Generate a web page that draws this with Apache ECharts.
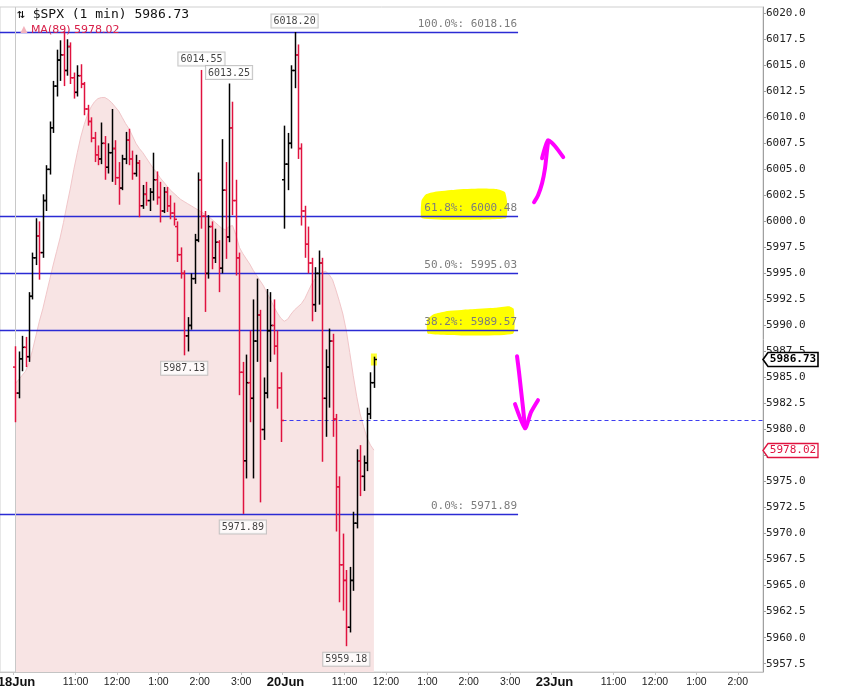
<!DOCTYPE html>
<html>
<head>
<meta charset="utf-8">
<title>$SPX 1 min</title>
<script src="https://cdn.jsdelivr.net/npm/echarts/dist/echarts.min.js"></script>
<style>
html,body{margin:0;padding:0;background:#fff;}
#chart{width:855px;height:691px;}
</style>
</head>
<body>
<div id="chart"></div>
<script>
// x axis = minutes since 18Jun 9:30 (19Jun market holiday, sessions are 390 min)
var sessionStart = [0, 390];
var barMinutes = 5;

var jun18Open = [5986.0,5983.5,5986.8,5987.9,5987.0,5992.8,5996.5,5998.6,5997.0,6002.0,
  6005.0,6009.0,6013.0,6015.5,6016.0,6014.5,6016.8,6013.8,6012.4,6014.0,
  6013.2,6010.8,6009.6,6008.0,6006.4,6006.0,6007.5,6005.2,6006.6,6007.0,
  6004.2,6003.2,6006.0,6007.8,6006.0,6004.6,6005.6,6001.5,6002.6,6002.0,
  6002.8,6004.0,6002.3,6001.0,6002.8,6001.5,6000.8,5999.5,5996.8,5995.0,
  5989.0,5990.0,5994.5,5998.2,6004.0,6000.5,5995.0,5999.5,5996.5,5998.0,
  5995.5,6003.0,5998.5,6009.0,6002.0,5996.5,5985.5,5977.0,5984.5,5983.0,
  5988.5,5991.0,5980.0,5983.5,5989.5,5990.0,5988.0,5984.0];
var jun18High = [5988.0,5987.5,5989.0,5988.9,5993.2,5997.0,6000.3,6000.0,6002.6,6005.4,
  6009.6,6013.5,6016.5,6017.4,6018.25,6017.5,6017.2,6014.3,6015.0,6015.1,
  6013.4,6011.2,6010.0,6008.6,6007.3,6009.5,6008.2,6007.5,6010.8,6007.8,
  6005.7,6006.4,6008.6,6008.9,6006.8,6006.4,6005.9,6003.5,6003.8,6003.2,
  6006.6,6004.8,6003.8,6003.3,6003.3,6002.5,6001.8,6000.0,5997.5,5995.3,
  5990.8,5995.0,5998.8,6004.7,6014.55,6001.0,6000.6,6000.0,5999.3,5998.2,
  6007.9,6005.7,6013.25,6011.5,6004.0,5997.0,5986.5,5987.2,5989.5,5992.5,
  5994.5,5991.5,5985.0,5993.5,5993.2,5992.5,5989.5,5985.5];
var jun18Low = [5980.7,5983.0,5985.6,5986.0,5986.5,5992.5,5995.8,5994.4,5996.5,6001.0,
  6004.5,6008.5,6012.0,6013.5,6013.0,6014.0,6013.2,6011.8,6012.0,6012.8,
  6010.2,6009.2,6007.6,6005.7,6005.4,6005.5,6004.0,6004.6,6003.8,6003.5,
  6001.6,6003.0,6005.5,6005.4,6004.0,6004.3,6000.4,6001.2,6001.5,6001.0,
  6002.0,6001.6,5999.9,6000.8,6000.9,6000.2,5999.6,5996.1,5994.5,5987.13,
  5987.5,5989.6,5994.0,5998.0,5999.3,5991.3,5994.5,5995.4,5996.0,5993.2,
  5995.0,5996.4,5998.0,6000.6,5994.8,5983.3,5971.89,5975.3,5980.7,5975.3,
  5986.5,5973.0,5979.0,5983.0,5986.5,5987.2,5982.0,5978.8];
var jun18Close = [5983.5,5986.8,5987.9,5987.0,5992.8,5996.5,5998.6,5997.0,6002.0,6005.0,
  6009.0,6013.0,6015.5,6016.0,6014.5,6016.8,6013.8,6012.4,6014.0,6013.2,
  6010.8,6009.6,6008.0,6006.4,6006.0,6007.5,6005.2,6006.6,6007.0,6004.2,
  6003.2,6006.0,6007.8,6006.0,6004.6,6005.6,6001.5,6002.6,6002.0,6002.8,
  6004.0,6002.3,6001.0,6002.8,6001.5,6000.8,6000.2,5996.8,5995.0,5989.0,
  5990.0,5994.5,5998.2,6004.0,6000.5,5995.0,5999.5,5996.5,5998.0,5995.5,
  6003.0,5998.5,6009.0,6002.0,5996.5,5985.5,5977.0,5984.5,5983.0,5988.5,
  5991.0,5980.0,5983.5,5989.5,5990.0,5988.0,5984.0,5980.87];
var jun18Ma = [5984.4,5984.8,5985.2,5985.6,5986.4,5987.6,5989.0,5990.4,5991.6,5993.0,
  5994.4,5995.8,5997.1,5998.4,5999.9,6001.6,6003.2,6005.0,6006.6,6008.1,
  6009.3,6010.3,6011.0,6011.5,6011.8,6011.9,6011.9,6011.7,6011.4,6011.0,
  6010.6,6010.0,6009.4,6008.9,6008.2,6007.5,6007.0,6006.6,6006.1,6005.6,
  6005.1,6004.7,6004.2,6003.8,6003.4,6003.0,6002.7,6002.4,6002.1,6001.9,
  6001.7,6001.5,6001.3,6001.1,6000.9,6000.7,6000.5,6000.2,5999.9,5999.6,
  5999.3,5999.2,5999.5,5999.6,5998.7,5997.5,5996.9,5996.4,5995.9,5995.3,
  5994.8,5994.3,5993.8,5993.1,5992.5,5991.8,5991.2,5990.7];

var jun20Open = [6004.0,6005.5,6007.5,6014.5,6016.0,6007.0,6001.0,5997.8,5996.0,5992.0,
  5995.0,5996.0,5983.0,5986.0,5988.5,5981.0,5974.5,5967.0,5965.5,5961.0,
  5965.5,5971.0,5977.0,5975.5,5976.8,5981.5,5984.5];
var jun20High = [6009.2,6008.5,6015.0,6018.20,6017.0,6007.5,6001.5,5999.5,5996.5,5995.6,
  5997.2,5996.5,5987.7,5989.7,5989.2,5981.5,5975.5,5970.0,5966.5,5966.8,
  5972.1,5978.1,5978.5,5977.5,5982.1,5985.5,5987.0];
var jun20Low = [5999.3,6003.0,6007.0,6012.8,6006.0,5999.6,5996.5,5995.0,5990.4,5991.3,
  5992.0,5976.9,5979.3,5982.1,5979.3,5970.2,5963.4,5962.6,5959.18,5960.5,
  5964.5,5970.5,5973.6,5974.1,5976.0,5981.0,5984.0];
var jun20Close = [6005.5,6007.5,6014.5,6016.0,6007.0,6001.0,5997.8,5996.0,5992.0,5995.0,
  5996.0,5983.0,5986.0,5988.5,5981.0,5974.5,5967.0,5965.5,5961.0,5965.5,
  5971.0,5977.0,5975.5,5976.8,5981.5,5984.5,5986.73];
var jun20Ma = [5990.4,5990.6,5991.1,5991.5,5991.8,5992.1,5992.6,5993.3,5994.0,5994.5,
  5994.9,5995.1,5995.2,5994.9,5994.4,5993.4,5992.3,5991.1,5989.5,5987.4,
  5985.2,5983.2,5981.5,5980.3,5979.2,5978.5,5978.02];

// labelled highs / lows as [session, bar]
var markHighs = [[1, 3], [0, 54], [0, 62]];
var markLows = [[0, 49], [0, 66], [1, 18]];

var fibLevels = [6018.16, 6000.48, 5995.03, 5989.57, 5971.89];
var fibPct = ['100.0%', '61.8%', '50.0%', '38.2%', '0.0%'];
var fibEndMinute = 731.5;

var yTicks = [5957.5,5960,5962.5,5965,5967.5,5970,5972.5,5975,5977.5,5980,5982.5,5985,5987.5,
  5990,5992.5,5995,5997.5,6000,6002.5,6005,6007.5,6010,6012.5,6015,6017.5,6020];
var xTickMinutes = [0, 90, 150, 210, 270, 330, 390, 480, 540, 600, 660, 720, 780, 870, 930, 990, 1050];
var xTickLabels = ['18Jun','11:00','12:00','1:00','2:00','3:00','20Jun','11:00','12:00','1:00','2:00','3:00',
  '23Jun','11:00','12:00','1:00','2:00'];

// hand drawn marks on the picture, in (minute, price)
var highlightPaths = [
  [[592.3,6000.3],[591.5,6002.0],[598.0,6002.6],[611.1,6002.85],[640.1,6003.05],[676.4,6003.15],[700.4,6003.1],[712.5,6002.8],[715.5,6001.9],[714.0,6000.3]],
  [[601.0,5989.2],[600.0,5990.6],[610.0,5991.1],[625.7,5991.35],[662.0,5991.55],[698.1,5991.7],[718.2,5991.85],[725.2,5991.6],[724.2,5989.2]]
];
var arrowPaths = [
  [[754.7,6001.84],[760.5,6002.52],[766.3,6003.67],[770.6,6005.11],[773.5,6006.84],[775.0,6007.61]],
  [[766.3,6006.07],[775.0,6007.8],[785.2,6007.22],[797.0,6006.17]],
  [[730.0,5987.05],[732.9,5985.51],[735.8,5983.78],[738.7,5982.06],[741.6,5980.13]],
  [[727.1,5982.44],[741.6,5980.13],[750.3,5981.67],[760.4,5982.82]]
];

var xMin = -19.57, xMax = 1086.6;
var yMin = 5956.7, yMax = 6020.6;

var days = [
  {o: jun18Open, h: jun18High, l: jun18Low, c: jun18Close, ma: jun18Ma},
  {o: jun20Open, h: jun20High, l: jun20Low, c: jun20Close, ma: jun20Ma}
];
function barTime(d, i) {
  return sessionStart[d] + barMinutes * i + barMinutes / 2;
}
var bars = [], maLine = [];
days.forEach(function (d, k) {
  for (var i = 0; i < d.o.length; i++) {
    bars.push([barTime(k, i), d.o[i], d.h[i], d.l[i], d.c[i]]);
    maLine.push([barTime(k, i), d.ma[i]]);
  }
});
var lastBar = bars[bars.length - 1];
var lastClose = lastBar[4];
var lastMa = maLine[maLine.length - 1][1];
var prevClose = jun18Close[jun18Close.length - 1];

var highPts = markHighs.map(function (m) { return [barTime(m[0], m[1]), days[m[0]].h[m[1]]]; });
var lowPts = markLows.map(function (m) { return [barTime(m[0], m[1]), days[m[0]].l[m[1]]]; });

var RED = '#e0123f';
var mono = '"DejaVu Sans Mono", monospace';

function boxLabel(pos) {
  return {
    show: true, position: pos, distance: pos === 'top' ? 4 : 6,
    formatter: function (p) { return p.value[1].toFixed(2); },
    fontFamily: mono, fontSize: 10, color: '#111',
    backgroundColor: '#fff', borderColor: '#b8b8b8', borderWidth: 1, padding: [2, 2, 1, 2]
  };
}

var chart = echarts.init(document.getElementById('chart'));
var option = {
  animation: false,
  backgroundColor: '#fff',
  title: [{
    text: '\u21c5 $SPX (1 min) ' + lastClose.toFixed(2),
    left: 17, top: 8, padding: 0,
    textStyle: {fontFamily: mono, fontSize: 13, fontWeight: 'normal', color: '#111'}
  }, {
    text: '{ic|\u25b2}{t|MA(89) ' + lastMa.toFixed(2) + '}',
    left: 18, top: 24, padding: 0,
    textStyle: {fontWeight: 'normal', rich: {
      ic: {color: '#f3b3bd', fontSize: 12, padding: [0, 1, 0, 0]},
      t: {color: '#d8204a', fontSize: 11, fontFamily: 'DejaVu Sans', fontWeight: 'normal'}
    }}
  }],
  grid: {left: 0, right: 92, top: 7, bottom: 19, outerBoundsMode: 'none', containLabel: false,
    show: true, borderColor: '#cfcfcf', borderWidth: 1},
  xAxis: {
    type: 'value', min: xMin, max: xMax,
    axisLine: {show: true, onZero: false, lineStyle: {color: '#c4c4c4'}},
    axisTick: {show: true, customValues: xTickMinutes, length: 3, lineStyle: {color: '#c4c4c4'}},
    splitLine: {show: false},
    axisLabel: {
      customValues: xTickMinutes, margin: 3,
      fontFamily: 'Liberation Sans', fontSize: 10.5, color: '#222', lineHeight: 14,
      formatter: function (v) {
        var k = xTickMinutes.indexOf(Math.round(v));
        if (k < 0) return '';
        var s = xTickLabels[k];
        return s.indexOf('Jun') > 0 ? '{d|' + s + '}' : s;
      },
      rich: {d: {fontWeight: 'bold', fontSize: 13, fontFamily: 'Liberation Sans', color: '#111', lineHeight: 14,
        padding: [0, 0, 0, 6]}}
    }
  },
  yAxis: {
    type: 'value', position: 'right', min: yMin, max: yMax, scale: true,
    axisLine: {show: true, onZero: false, lineStyle: {color: '#a0a0a0'}},
    axisTick: {show: true, customValues: yTicks, length: 3, lineStyle: {color: '#a0a0a0'}},
    splitLine: {show: false},
    axisLabel: {
      customValues: yTicks, margin: 3, color: '#222', fontFamily: mono, fontSize: 11,
      formatter: function (v) { return v.toFixed(1); }
    }
  },
  series: [{
    // MA(89) drawn as shaded area
    type: 'line', data: maLine, showSymbol: false, z: 1,
    lineStyle: {color: '#f1c6c9', width: 1},
    areaStyle: {color: '#f8e4e4', opacity: 1},
    markLine: {
      silent: true, symbol: ['none', 'none'], label: {show: false},
      lineStyle: {color: '#c8c8c8', type: 'solid', width: 1},
      data: [{xAxis: 2}]
    }
  }, {
    // marker highlights behind the fib labels
    type: 'custom', z: 2, silent: true,
    data: highlightPaths.map(function (p) { return p[0]; }),
    renderItem: function (params, api) {
      var pts = highlightPaths[params.dataIndex].map(function (p) { return api.coord(p); });
      return {type: 'polygon', shape: {points: pts, smooth: 0.15}, style: {fill: '#ffff00'}};
    }
  }, {
    // fibonacci retracement lines
    type: 'custom', z: 3, silent: true,
    data: fibLevels.map(function (v) { return [xMin, v, fibEndMinute]; }),
    encode: {x: [0, 2], y: 1},
    renderItem: function (params, api) {
      var a = api.coord([api.value(0), api.value(1)]);
      var b = api.coord([api.value(2), api.value(1)]);
      var y = Math.round(a[1]) + 0.5;
      var k = params.dataIndex;
      return {type: 'group', children: [
        {type: 'line', shape: {x1: a[0], y1: y, x2: b[0], y2: y}, style: {stroke: '#2b2bd4', lineWidth: 1.3}},
        {type: 'text', style: {
          text: fibPct[k] + ': ' + fibLevels[k].toFixed(2), x: b[0] - 1, y: y - 3,
          align: 'right', verticalAlign: 'bottom', fill: '#7c7c7c', font: '11px ' + mono
        }}
      ]};
    }
  }, {
    // previous close, dashed
    type: 'custom', z: 3, silent: true,
    data: [[sessionStart[1], prevClose, xMax]],
    encode: {x: [0, 2], y: 1},
    renderItem: function (params, api) {
      var a = api.coord([api.value(0), api.value(1)]);
      var b = api.coord([api.value(2), api.value(1)]);
      var y = Math.round(a[1]) + 0.5;
      return {type: 'line', shape: {x1: a[0], y1: y, x2: b[0], y2: y},
        style: {stroke: '#3c3cf0', lineWidth: 1.2, lineDash: [4, 3]}};
    }
  }, {
    // last bar highlight
    type: 'scatter', z: 4, silent: true,
    data: [[lastBar[0], lastClose]],
    symbol: 'rect', symbolSize: [6, 12], itemStyle: {color: '#ffff00'}
  }, {
    // OHLC bars
    type: 'custom', z: 5, silent: true,
    data: bars,
    encode: {x: 0, y: [1, 2, 3, 4]},
    renderItem: function (params, api) {
      var t = api.value(0), o = api.value(1), h = api.value(2), l = api.value(3), c = api.value(4);
      var pH = api.coord([t, h]), pL = api.coord([t, l]);
      var pO = api.coord([t, o]), pC = api.coord([t, c]);
      var x = Math.round(pH[0]) + 0.5;
      var col = c >= o ? '#000' : RED;
      var st = {stroke: col, lineWidth: 1.5};
      return {type: 'group', children: [
        {type: 'line', shape: {x1: x, y1: pH[1], x2: x, y2: pL[1]}, style: st},
        {type: 'line', shape: {x1: x - 2.5, y1: pO[1], x2: x, y2: pO[1]}, style: st},
        {type: 'line', shape: {x1: x, y1: pC[1], x2: x + 2.5, y2: pC[1]}, style: st}
      ]};
    }
  }, {
    // hand drawn magenta arrows
    type: 'custom', z: 6, silent: true,
    data: arrowPaths.map(function (p) { return p[0]; }),
    renderItem: function (params, api) {
      var pts = arrowPaths[params.dataIndex].map(function (p) { return api.coord(p); });
      return {type: 'polyline', shape: {points: pts, smooth: 0.2},
        style: {stroke: '#ff00ff', lineWidth: 4, fill: null, lineCap: 'round', lineJoin: 'round'}};
    }
  }, {
    type: 'scatter', z: 7, silent: true, data: highPts,
    symbolSize: 1, itemStyle: {color: 'rgba(0,0,0,0)'}, label: boxLabel('top')
  }, {
    type: 'scatter', z: 7, silent: true, data: lowPts,
    symbolSize: 1, itemStyle: {color: 'rgba(0,0,0,0)'}, label: boxLabel('bottom')
  }, {
    // value tags on the price axis
    type: 'custom', z: 8, silent: true,
    data: [[xMax, lastClose, 0], [xMax, lastMa, 1]],
    encode: {x: 0, y: 1},
    renderItem: function (params, api) {
      var p = api.coord([api.value(0), api.value(1)]);
      var x = Math.round(p[0]), y = Math.round(p[1]) + 0.5;
      var isPrice = api.value(2) === 0;
      var col = isPrice ? '#000' : RED;
      return {type: 'group', children: [
        {type: 'polygon', shape: {points: [[x, y], [x + 5, y - 7], [x + 55, y - 7], [x + 55, y + 7], [x + 5, y + 7]]},
          style: {fill: '#fff', stroke: col, lineWidth: isPrice ? 1.6 : 1.3}},
        {type: 'text', style: {text: api.value(1).toFixed(2), x: x + 30, y: y, align: 'center', verticalAlign: 'middle',
          fill: col, font: (isPrice ? 'bold ' : '') + '11px ' + mono}}
      ]};
    }
  }]
};
chart.setOption(option);
</script>
</body>
</html>
